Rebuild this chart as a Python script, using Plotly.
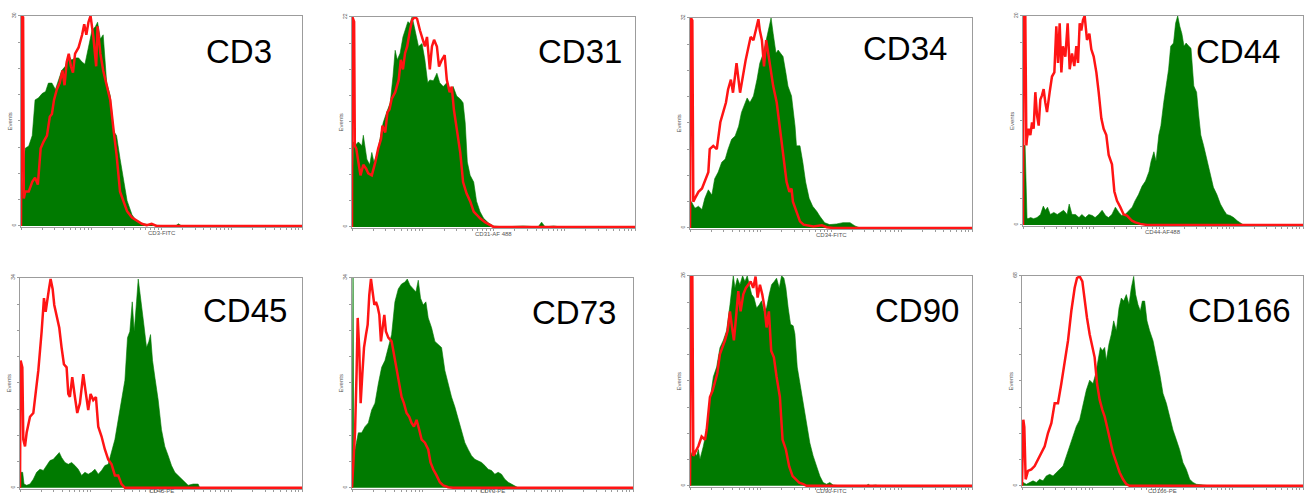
import plotly.graph_objects as go

W, H = 1305, 494

# ---------------- data (x = log10 fluorescence decade, y = events) ----------------
MARKERS = ["CD3", "CD31", "CD34", "CD44", "CD45", "CD73", "CD90", "CD166"]
CHANNEL_LABELS = ["CD3-FITC", "CD31-AF 488", "CD34-FITC", "CD44-AF488",
                  "CD45-PE", "CD73-PE", "CD90-FITC", "CD166-PE"]
EVENTS_MAX = [30, 22, 32, 20, 34, 34, 26, 68]

CD3_STAIN_X = [0.00,0.01,0.06,0.11,0.16,0.20,0.25,0.30,0.35,0.39,0.44,0.49,0.54,0.58,0.63,0.68,0.72,0.77,0.82,0.87,0.91,0.96,1.01,1.06,1.09,1.13,1.17,1.22,1.27,1.32,1.36,1.41,1.46,1.51,1.58,1.65,1.74,1.88,2.20,2.24,2.29,4.00]
CD3_STAIN_Y = [0,3.9,11.1,11.4,12.9,18.0,18.3,18.9,19.2,20.4,20.4,19.5,21.0,22.2,22.8,24.3,23.7,24.0,24.0,23.4,23.1,25.5,27.9,28.5,29.1,26.7,27.3,20.4,18.6,13.5,12.9,9.6,6.3,3.6,1.6,0.6,0.3,0.1,0.0,0.3,0,0]
CD3_ISO_X = [0.00,0.01,0.03,0.04,0.06,0.11,0.16,0.20,0.24,0.28,0.32,0.37,0.41,0.44,0.47,0.51,0.55,0.59,0.62,0.65,0.68,0.71,0.74,0.77,0.82,0.87,0.90,0.93,0.96,0.99,1.03,1.07,1.09,1.13,1.17,1.22,1.27,1.32,1.36,1.41,1.46,1.51,1.58,1.65,1.72,1.79,1.86,1.93,4.00]
CD3_ISO_Y = [0,30,29.8,3.9,4.9,4.9,6.3,6.9,5.9,11.1,12.0,12.9,15.6,16.0,18.0,19.5,20.4,22.2,20.1,23.4,24.6,22.8,21.9,24.6,25.5,27.3,28.8,27.3,29.1,30.0,27.0,22.8,28.5,24.6,22.2,20.1,18.0,13.5,10.2,4.9,3.5,2.1,1.2,0.7,0.3,0.1,0.3,0,0]

CD31_STAIN_X = [0.00,0.02,0.04,0.09,0.14,0.16,0.21,0.25,0.28,0.31,0.35,0.40,0.44,0.49,0.54,0.58,0.61,0.64,0.68,0.72,0.75,0.79,0.82,0.85,0.88,0.91,0.94,0.99,1.03,1.07,1.10,1.15,1.20,1.24,1.29,1.34,1.39,1.43,1.48,1.53,1.57,1.60,1.63,1.67,1.72,1.76,1.81,1.86,1.93,2.00,2.14,2.42,2.63,2.68,2.73,2.85,2.94,4.00]
CD31_STAIN_Y = [0,8.9,8.5,8.9,8.5,9.6,7.1,6.5,7.8,6.8,7.5,9.6,10.9,12.0,13.0,15.8,18.5,17.5,18.2,19.9,20.6,21.5,21.3,22.0,21.0,19.9,18.9,19.2,17.5,15.1,15.4,15.3,16.1,15.1,14.7,15.1,14.4,14.7,13.7,13.4,13.0,10.9,6.8,5.4,4.7,2.7,1.6,0.9,0.4,0.1,0,0.1,0,0.5,0,0.1,0,0]
CD31_ISO_X = [0.00,0.005,0.03,0.04,0.06,0.09,0.12,0.16,0.20,0.23,0.28,0.33,0.37,0.41,0.43,0.47,0.50,0.53,0.56,0.61,0.66,0.69,0.72,0.75,0.78,0.82,0.85,0.89,0.92,0.96,1.00,1.03,1.06,1.08,1.10,1.13,1.16,1.20,1.23,1.27,1.31,1.34,1.38,1.41,1.44,1.48,1.53,1.57,1.62,1.67,1.72,1.76,1.81,1.88,1.95,2.00,4.00]
CD31_ISO_Y = [0,22,21.5,8.5,8.2,6.5,5.4,6.5,6.1,5.6,5.4,6.8,8.2,9.2,10.6,9.9,12.0,12.3,13.4,14.1,15.4,17.5,16.5,18.2,18.9,20.6,21.7,22.0,21.8,20.6,19.6,18.9,19.9,18.5,16.5,18.9,19.6,18.9,16.8,17.5,18.0,15.4,14.1,14.7,12.3,10.3,7.8,4.7,3.5,2.7,1.6,1.3,0.9,0.5,0.2,0,0]

CD34_STAIN_X = [0.00,0.02,0.07,0.12,0.17,0.21,0.26,0.31,0.35,0.40,0.45,0.50,0.54,0.59,0.64,0.69,0.73,0.78,0.81,0.85,0.90,0.95,0.99,1.04,1.08,1.12,1.15,1.18,1.22,1.25,1.29,1.32,1.36,1.39,1.44,1.49,1.51,1.56,1.60,1.64,1.69,1.74,1.80,1.84,1.91,1.98,2.08,2.17,2.27,2.34,2.41,4.00]
CD34_STAIN_Y = [3.5,4.0,3.0,3.3,2.8,4.5,5.8,5.0,7.5,8.5,10.0,10.5,12.0,13.5,14.0,15.5,17.6,19.1,19.8,19.1,20.1,22.6,25.1,26.6,28.6,30.1,32.0,29.6,26.6,27.1,26.6,26.1,23.6,21.6,20.1,15.5,12.5,12.5,10.0,7.0,4.5,3.3,2.5,1.8,0.8,0.5,0.6,0.8,0.8,0.3,0,0]
CD34_ISO_X = [0.00,0.014,0.033,0.047,0.07,0.12,0.17,0.21,0.26,0.28,0.33,0.38,0.43,0.47,0.51,0.54,0.58,0.61,0.66,0.71,0.76,0.79,0.83,0.86,0.90,0.94,0.97,0.99,1.02,1.05,1.08,1.11,1.14,1.18,1.23,1.28,1.32,1.37,1.41,1.44,1.46,1.51,1.56,1.61,1.68,1.75,1.87,1.94,2.03,4.00]
CD34_ISO_Y = [0,32,31.6,4.0,4.5,5.5,6.0,7.0,8.5,12.0,12.5,12.0,16.1,17.6,19.1,21.1,22.6,20.6,25.1,20.6,24.1,25.6,27.6,29.1,28.6,30.6,31.8,30.1,28.6,24.6,28.6,26.6,24.1,21.6,19.1,15.0,11.5,7.0,5.5,6.0,4.0,2.5,1.0,0.5,0.35,0.2,0.4,0.1,0,0]

CD44_STAIN_X = [0.00,0.01,0.03,0.057,0.07,0.11,0.15,0.20,0.25,0.29,0.32,0.35,0.39,0.44,0.49,0.53,0.58,0.63,0.66,0.70,0.75,0.80,0.84,0.89,0.94,0.99,1.03,1.08,1.13,1.18,1.22,1.27,1.32,1.37,1.41,1.46,1.51,1.56,1.60,1.65,1.70,1.75,1.80,1.83,1.87,1.90,1.94,1.97,2.01,2.05,2.08,2.11,2.15,2.18,2.21,2.24,2.27,2.30,2.33,2.37,2.40,2.44,2.48,2.51,2.54,2.58,2.63,2.68,2.72,2.77,2.82,2.87,2.91,2.96,3.01,3.06,3.10,3.15,4.00]
CD44_STAIN_Y = [0,7.6,7.6,0.7,0.6,0.7,0.6,0.7,1.0,1.8,1.4,1.7,1.0,1.2,1.0,1.2,1.4,1.0,2.0,1.0,1.0,0.7,1.0,0.7,1.0,0.9,0.7,1.0,1.4,0.9,0.7,1.0,1.7,1.2,0.9,1.0,1.4,1.7,2.3,2.9,3.7,4.2,5.1,6.1,7.0,6.1,8.6,9.5,11.7,13.3,14.9,17.1,17.4,19.3,20,19.0,18.3,17.1,17.4,17.1,16.9,13.3,12.7,10.5,8.6,7.6,6.1,4.5,3.6,2.9,2.0,1.4,1.0,0.9,0.7,0.4,0.2,0.0,0]
CD44_ISO_X = [0.00,0.01,0.033,0.048,0.057,0.081,0.105,0.129,0.152,0.176,0.200,0.224,0.248,0.271,0.295,0.319,0.343,0.381,0.414,0.448,0.476,0.500,0.524,0.548,0.571,0.605,0.638,0.667,0.700,0.733,0.762,0.786,0.810,0.833,0.857,0.881,0.914,0.948,0.976,1.010,1.048,1.081,1.119,1.152,1.190,1.224,1.271,1.305,1.343,1.390,1.438,1.486,1.524,1.557,1.605,1.676,1.771,4.00]
CD44_ISO_Y = [0,20,20,7.6,8.3,9.2,8.6,9.8,9.2,12.7,10.5,9.5,12.0,12.4,13.0,11.7,10.8,12.7,14.2,14.6,19.0,15.5,19.3,14.6,17.1,16.1,19.3,14.9,16.4,15.2,17.1,15.5,19.3,18.6,19.6,20,17.7,18.3,16.8,16.1,14.6,12.7,10.2,9.2,8.6,6.7,5.8,3.2,2.3,1.7,1.0,0.9,0.6,0.4,0.25,0.1,0,0]

CD45_STAIN_X = [0.00,0.009,0.038,0.057,0.094,0.142,0.189,0.236,0.283,0.331,0.378,0.425,0.472,0.519,0.557,0.590,0.638,0.685,0.732,0.779,0.826,0.874,0.921,0.968,1.015,1.063,1.110,1.157,1.204,1.251,1.299,1.346,1.393,1.440,1.488,1.525,1.558,1.592,1.620,1.653,1.677,1.700,1.724,1.757,1.795,1.828,1.851,1.880,1.913,1.960,2.007,2.054,2.102,2.149,2.196,2.243,2.290,2.338,2.385,2.456,2.527,2.550,4.00]
CD45_STAIN_Y = [0,2.5,2.5,0.6,0.4,0.6,1.4,2.5,3.0,2.8,3.6,4.4,4.6,5.2,5.7,4.9,4.1,3.8,4.1,3.6,3.0,2.0,2.5,2.2,2.5,3.0,2.2,2.8,3.6,3.8,5.7,7.8,11.0,14.2,17.4,24.3,25.3,30.1,25.3,30.1,33.8,31.7,29.1,26.4,22.7,23.7,24.8,20.6,17.9,14.2,9.4,6.7,5.2,3.6,2.5,2.0,1.4,0.9,0.4,0.6,0.6,0,0]
CD45_ISO_X = [0.00,0.009,0.033,0.047,0.071,0.094,0.142,0.189,0.227,0.260,0.307,0.340,0.364,0.387,0.411,0.434,0.463,0.486,0.519,0.557,0.590,0.623,0.661,0.685,0.708,0.741,0.779,0.812,0.850,0.897,0.935,0.968,1.001,1.039,1.077,1.110,1.157,1.204,1.251,1.299,1.346,1.393,1.440,1.488,4.00]
CD45_ISO_Y = [0,20.6,19.5,7.8,6.7,8.9,11.5,12.1,15.8,19.0,25.3,30.7,28.5,30.7,32.2,33.8,32.2,29.6,28.0,25.9,22.7,20.0,19.5,15.2,14.7,17.9,14.7,12.1,13.7,18.4,15.2,12.6,15.2,14.2,14.7,9.9,8.3,6.2,4.6,3.8,2.0,2.0,0.6,0,0]

CD73_STAIN_X = [0.00,0.005,0.015,0.025,0.043,0.090,0.137,0.185,0.232,0.280,0.327,0.374,0.422,0.469,0.517,0.564,0.611,0.659,0.706,0.754,0.787,0.825,0.872,0.910,0.943,0.976,1.014,1.052,1.085,1.133,1.180,1.227,1.275,1.322,1.370,1.417,1.464,1.512,1.559,1.607,1.654,1.701,1.749,1.796,1.844,1.891,1.938,1.986,2.033,2.081,2.128,2.175,2.223,2.270,2.318,2.365,4.00]
CD73_STAIN_Y = [0,34,34,6.2,6.2,8.9,8.9,9.9,10.5,12.6,13.7,16.8,19.5,20.6,22.7,24.8,30.1,32.2,33.0,33.3,33.8,32.8,32.2,31.7,33.6,30.7,29.6,30.1,27.5,25.9,23.7,23.2,22.7,19.0,16.8,14.7,13.1,11.0,9.4,7.3,6.2,5.2,4.6,4.4,4.1,3.6,3.0,2.8,2.2,2.5,2.2,1.4,0.9,0.6,0.3,0,0]
CD73_ISO_X = [0.00,0.019,0.043,0.066,0.081,0.104,0.123,0.147,0.171,0.199,0.223,0.246,0.270,0.294,0.318,0.341,0.365,0.389,0.412,0.436,0.460,0.483,0.517,0.564,0.597,0.635,0.673,0.706,0.739,0.777,0.815,0.848,0.882,0.919,0.957,0.991,1.038,1.085,1.118,1.156,1.204,1.251,1.299,1.370,1.441,4.00]
CD73_ISO_Y = [0,4.1,8.9,19.0,27.5,22.2,13.7,18.4,22.7,24.8,26.4,31.2,33.8,31.7,29.6,30.1,29.3,28.0,23.7,25.9,28.0,25.3,24.3,23.7,21.6,19.5,16.8,14.7,13.7,12.1,11.5,10.5,9.9,11.0,9.4,7.8,7.3,6.2,4.1,3.0,2.0,0.9,0.4,0.1,0,0]

CD90_STAIN_X = [0.00,0.009,0.047,0.094,0.118,0.142,0.189,0.236,0.283,0.331,0.378,0.425,0.472,0.519,0.567,0.590,0.614,0.638,0.671,0.708,0.746,0.779,0.812,0.841,0.874,0.907,0.945,0.982,1.015,1.048,1.086,1.124,1.157,1.195,1.228,1.266,1.299,1.332,1.360,1.393,1.426,1.464,1.488,1.521,1.558,1.606,1.653,1.700,1.747,1.795,1.842,1.889,1.936,1.983,2.031,2.125,2.503,2.527,2.560,2.635,2.670,4.00]
CD90_STAIN_Y = [3.7,3.7,4.5,3.7,4.5,3.3,4.9,6.9,10.6,13.5,14.7,17.1,18.0,19.2,22.4,24.5,26,24.5,25.7,24.9,26,25.3,26,24.9,23.7,23.3,22.0,22.4,22.9,21.6,22.0,23.7,24.9,25.3,25.7,24.5,26,25.7,24.5,22.0,20.0,19.8,18.8,14.7,12.7,9.8,7.3,5.3,3.7,2.4,1.2,0.4,0.2,0.4,0.1,0,0,0.2,0,0.1,0,0]
CD90_ISO_X = [0.00,0.014,0.033,0.047,0.071,0.118,0.165,0.213,0.236,0.283,0.321,0.354,0.387,0.425,0.463,0.496,0.534,0.567,0.590,0.623,0.652,0.685,0.718,0.756,0.793,0.826,0.860,0.897,0.930,0.959,0.992,1.025,1.058,1.086,1.119,1.152,1.190,1.228,1.275,1.313,1.360,1.407,1.455,1.502,1.549,1.606,1.653,4.00]
CD90_ISO_Y = [0,26,26,3.7,4.1,4.9,6.1,5.7,6.9,11.0,11.8,12.7,13.9,16.3,17.1,18.0,19.2,21.6,20.0,18.0,20.8,24.1,21.6,23.7,24.5,24.9,25.3,24.5,25.9,23.3,24.9,23.7,22.0,19.6,21.6,16.7,15.9,13.5,11.0,5.7,4.5,2.4,1.2,0.8,0.4,0.2,0,0]

CD166_STAIN_X = [0.00,0.014,0.062,0.109,0.157,0.204,0.251,0.299,0.346,0.394,0.441,0.489,0.536,0.584,0.631,0.679,0.726,0.773,0.821,0.868,0.916,0.963,1.011,1.049,1.082,1.115,1.144,1.177,1.200,1.238,1.272,1.305,1.343,1.381,1.414,1.447,1.485,1.523,1.556,1.590,1.618,1.651,1.684,1.713,1.746,1.779,1.817,1.865,1.912,1.960,2.007,2.055,2.102,2.149,2.197,2.244,2.292,2.339,2.387,2.434,2.482,2.577,2.671,4.00]
CD166_STAIN_Y = [0,1.1,0.5,1.1,1.6,1.1,2.1,1.6,3.2,3.7,3.2,4.3,5.3,6.4,9.6,12.8,16.0,19.2,21.4,26.7,31.0,34.2,33.1,36.3,40.6,44.8,43.8,44.8,40.6,45.9,49.1,53.4,50.2,57.6,60.8,59.8,61.9,58.7,64.1,67.8,61.9,58.7,56.6,59.8,59.8,53.4,50.2,47.0,41.6,36.3,29.9,26.7,22.4,18.1,14.9,11.7,7.5,5.3,2.1,1.1,0.5,0.2,0,0]
CD166_ISO_X = [0.00,0.019,0.033,0.052,0.085,0.133,0.180,0.228,0.275,0.323,0.370,0.418,0.465,0.512,0.560,0.607,0.655,0.702,0.750,0.783,0.821,0.859,0.892,0.925,0.963,1.001,1.034,1.068,1.106,1.144,1.177,1.210,1.248,1.295,1.343,1.390,1.438,1.485,1.533,4.00]
CD166_ISO_Y = [0,21.4,19.0,2.1,4.8,5.3,6.4,8.5,10.7,12.8,17.1,20.3,26.7,26.7,33.1,40.6,47.0,56.6,64.1,67.3,67.8,66.2,59.8,54.4,49.1,44.8,41.6,33.1,27.8,24.6,22.4,19.2,14.9,10.7,7.5,4.3,2.1,0.5,0,0]

STAINED = [(CD3_STAIN_X, CD3_STAIN_Y), (CD31_STAIN_X, CD31_STAIN_Y), (CD34_STAIN_X, CD34_STAIN_Y),
           (CD44_STAIN_X, CD44_STAIN_Y), (CD45_STAIN_X, CD45_STAIN_Y), (CD73_STAIN_X, CD73_STAIN_Y),
           (CD90_STAIN_X, CD90_STAIN_Y), (CD166_STAIN_X, CD166_STAIN_Y)]
ISOTYPE = [(CD3_ISO_X, CD3_ISO_Y), (CD31_ISO_X, CD31_ISO_Y), (CD34_ISO_X, CD34_ISO_Y),
           (CD44_ISO_X, CD44_ISO_Y), (CD45_ISO_X, CD45_ISO_Y), (CD73_ISO_X, CD73_ISO_Y),
           (CD90_ISO_X, CD90_ISO_Y), (CD166_ISO_X, CD166_ISO_Y)]

# ---------------- layout (pixel boxes: left, right, top, bottom) ----------------
BOXES = [(21, 302, 12, 225), (352, 635, 13, 226), (690, 972, 14, 227), (1023, 1303, 12, 224),
         (20, 302, 276, 489), (352, 633, 276, 489), (690, 972, 274, 487), (1022, 1303, 274, 487)]
TITLE_POS = [(239, 48), (580, 48), (905, 45), (1238, 48),
             (245, 309), (574, 311), (917, 309), (1239, 309)]

GREEN = "#007a00"
RED = "#ff1414"
FRAME = "#9c9c9c"

fig = go.Figure()
annotations = []
log_ticks = [m * 10 ** k for k in range(4) for m in range(1, 10)] + [10 ** 4]

for i, name in enumerate(MARKERS):
    n = i + 1
    xa = "x" if n == 1 else f"x{n}"
    ya = "y" if n == 1 else f"y{n}"
    sx, sy = STAINED[i]
    ix, iy = ISOTYPE[i]
    fig.add_trace(go.Scatter(x=[10 ** d for d in sx], y=sy, mode="lines",
                             line=dict(color=GREEN, width=0.6), fill="tozeroy",
                             fillcolor=GREEN, xaxis=xa, yaxis=ya, showlegend=False,
                             hoverinfo="skip"))
    fig.add_trace(go.Scatter(x=[10 ** d for d in ix], y=iy, mode="lines",
                             line=dict(color=RED, width=2.5), xaxis=xa, yaxis=ya,
                             showlegend=False, hoverinfo="skip"))

    l, r, t, b = BOXES[i]
    ymax = EVENTS_MAX[i]
    xkey = "xaxis" if n == 1 else f"xaxis{n}"
    ykey = "yaxis" if n == 1 else f"yaxis{n}"
    fig.update_layout(**{
        xkey: dict(domain=[l / W, r / W], anchor=ya, type="log", range=[0, 4],
                   showgrid=False, zeroline=False, showline=True, mirror=True,
                   linecolor=FRAME, linewidth=1, tickvals=log_ticks, ticks="outside",
                   ticklen=2, tickcolor=FRAME, showticklabels=False),
        ykey: dict(domain=[1 - b / H, 1 - t / H], anchor=xa,
                   range=[-ymax * 0.006, ymax], showgrid=False, zeroline=False,
                   showline=True, mirror=True, linecolor=FRAME, linewidth=1,
                   tickvals=[0, ymax], ticktext=["0", str(ymax)], ticks="outside",
                   ticklen=2, tickcolor=FRAME, tickangle=-90,
                   tickfont=dict(size=5, color="#555", family="Liberation Sans"),
                   minor=dict(dtick=ymax / 8, ticks="outside", ticklen=2, tickcolor=FRAME)),
    })

    tx, ty = TITLE_POS[i]
    annotations.append(dict(text=name, x=tx / W, y=1 - ty / H, xref="paper", yref="paper",
                            xanchor="center", yanchor="middle", showarrow=False,
                            font=dict(family="Liberation Sans, Arial", size=33, color="#000")))
    annotations.append(dict(text="Events", x=(l - 11) / W, y=1 - ((t + b) / 2) / H,
                            xref="paper", yref="paper", xanchor="center", yanchor="middle",
                            textangle=-90, showarrow=False,
                            font=dict(family="Liberation Sans, Arial", size=6, color="#555")))
    annotations.append(dict(text=CHANNEL_LABELS[i], x=((l + r) / 2) / W,
                            y=1 - min(b + 6, H - 3) / H,
                            xref="paper", yref="paper", xanchor="center", yanchor="middle",
                            showarrow=False,
                            font=dict(family="Liberation Sans, Arial", size=6, color="#555")))

fig.update_layout(width=W, height=H, autosize=False,
                  margin=dict(l=0, r=0, t=0, b=0),
                  paper_bgcolor="white", plot_bgcolor="white",
                  annotations=annotations, showlegend=False)

fig.write_html("out.html", config={"displayModeBar": False, "staticPlot": True},
               post_script="document.body.style.margin='0';document.body.style.overflow='hidden';")
